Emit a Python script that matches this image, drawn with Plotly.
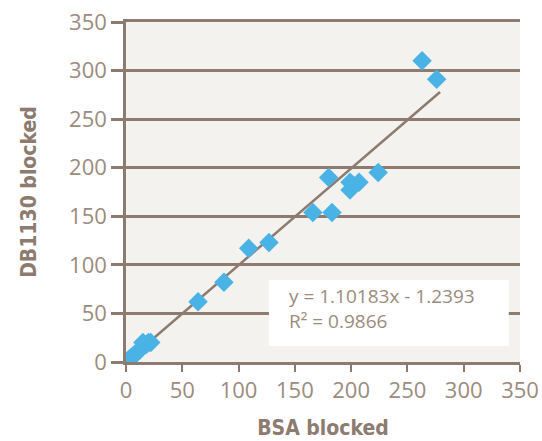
import plotly.graph_objects as go

# Data
bsa_blocked = [0, 2, 4, 6, 8, 10, 12, 15, 18, 20, 22,
               64, 87, 109, 127, 166, 180, 183, 199, 199, 202, 207, 224, 263, 276]
db1130_blocked = [0, 2, 4, 6, 8, 10, 12, 20, 18, 20, 20,
                  62, 82, 117, 123, 154, 190, 154, 185, 177, 182, 185, 195, 310, 291]
trend_x = [0, 279]
trend_y = [0, 278]
x_ticks = [0, 50, 100, 150, 200, 250, 300, 350]
y_ticks = [0, 50, 100, 150, 200, 250, 300, 350]
equation_text = "y = 1.10183x - 1.2393<br>R² = 0.9866"

brown = "#8C7B6E"
label_col = "#9B8B7E"
title_font = "Liberation Sans Narrow, DejaVu Sans Condensed, Roboto Condensed, Roboto"

fig = go.Figure()
fig.add_trace(go.Scatter(x=trend_x, y=trend_y, mode="lines",
                         line=dict(color=brown, width=2.5), hoverinfo="skip"))
fig.add_trace(go.Scatter(x=bsa_blocked, y=db1130_blocked, mode="markers",
                         marker=dict(symbol="diamond", size=15, color="#4AB3E6",
                                     line=dict(width=0))))

fig.add_shape(type="rect", xref="x", yref="y", x0=127, x1=340, y0=16.5, y1=84.4,
              fillcolor="white", line=dict(width=0), layer="between")
fig.add_annotation(x=143, y=55, xref="x", yref="y", text=equation_text,
                   showarrow=False, xanchor="left", yanchor="middle", align="left",
                   font=dict(family="Open Sans", size=19, color=label_col))

fig.update_layout(
    width=542, height=441,
    margin=dict(l=126, r=22, t=22, b=79, autoexpand=False),
    paper_bgcolor="white", plot_bgcolor="#F3F2EE",
    showlegend=False,
    font=dict(family="Open Sans", color=label_col),
)
fig.update_xaxes(range=[0, 350], tickvals=x_ticks, showgrid=False, zeroline=False,
                 automargin=False, ticklabeloverflow="allow",
                 showline=True, mirror=True, linecolor=brown, linewidth=2.5,
                 ticks="outside", ticklen=7, tickwidth=2, tickcolor=brown,
                 tickfont=dict(family="Open Sans", size=22, color=label_col),
                 title=dict(text="<b>BSA blocked</b>", standoff=18,
                            font=dict(family=title_font, size=21, color=brown)))
fig.update_yaxes(range=[0, 350], tickvals=y_ticks, showgrid=True, gridcolor=brown, gridwidth=2.5,
                 automargin=False, ticklabeloverflow="allow",
                 zeroline=False, showline=True, linecolor=brown, linewidth=2.5,
                 ticks="outside", ticklen=12, tickwidth=2.5, tickcolor=brown,
                 tickfont=dict(family="Open Sans", size=22, color=label_col),
                 title=dict(text="<b>DB1130 blocked</b>", standoff=27,
                            font=dict(family=title_font, size=21, color=brown)))

fig.write_html("out.html", config={"displayModeBar": False},
               post_script="document.body.style.margin='0';document.body.style.padding='0';")
